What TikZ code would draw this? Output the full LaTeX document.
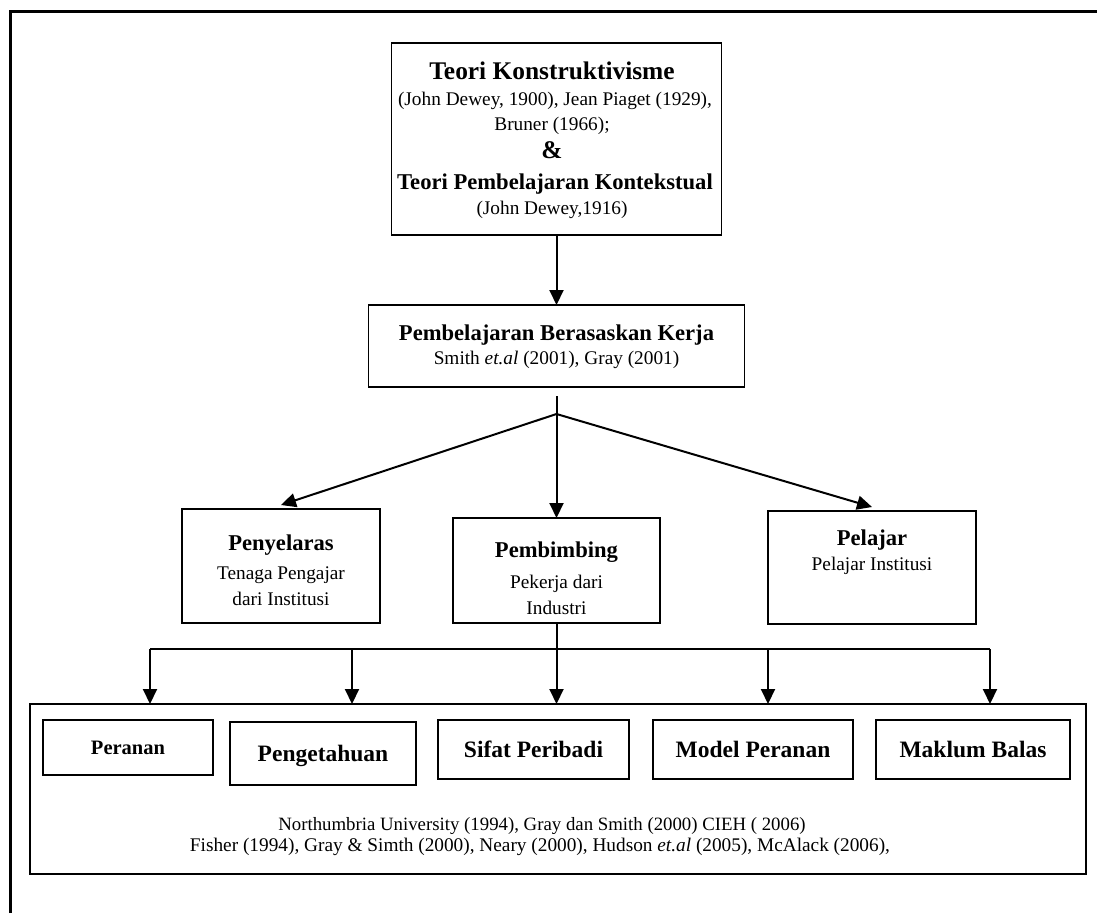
\documentclass[tikz,border=0pt]{standalone}
\usepackage{fontspec}
\setmainfont{Liberation Serif}
\usetikzlibrary{arrows.meta}
\newcommand\fsz[1]{\fontsize{#1}{#1}\selectfont}
\begin{document}
\begin{tikzpicture}[x=1pt,y=-1pt,
  box/.style={draw, line width=1.8pt, inner sep=0pt, outer sep=0pt},
  arr/.style={line width=2pt, -{Triangle[length=15pt,width=14pt]}},
  conn/.style={line width=2pt},
  txt/.style={anchor=base, inner sep=0pt},
  hbig/.style={font=\bfseries\fsz{25.4}},
  hmid/.style={font=\bfseries\fsz{22.6}},
  reg/.style={font=\fsz{19.3}},
  inb/.style={box, font=\bfseries\fsz{23.5}, text height=15.5pt, text depth=0pt},
  inbs/.style={box, font=\bfseries\fsz{20.5}, text height=13.6pt, text depth=0pt}
]
\useasboundingbox (0,0) rectangle (1097,913);
% outer frame (top and left sides)
\draw[line width=3pt] (10.5,913) -- (10.5,11.5) -- (1097,11.5);

% top box
\node[box, minimum width=330pt, minimum height=192pt] (top) at (556.5,139) {};
\node[txt, hbig] (t1) at (552,79) {Teori Konstruktivisme};
\node[txt, reg] (t2) at (555,105) {(John Dewey, 1900), Jean Piaget (1929),};
\node[txt, reg] (t3) at (552,130) {Bruner (1966);};
\node[txt, hbig] (t4) at (552,158) {\&};
\node[txt, hmid] (t5) at (555,189) {Teori Pembelajaran Kontekstual};
\node[txt, reg] (t6) at (552,214) {(John Dewey,1916)};

% second box
\node[box, minimum width=376pt, minimum height=82pt] (pbk) at (556.5,346) {};
\node[txt, hmid] (s1) at (556.5,340) {Pembelajaran Berasaskan Kerja};
\node[txt, reg] (s2) at (556.5,364) {Smith \textit{et.al} (2001), Gray (2001)};

% three boxes
\node[box, minimum width=198pt, minimum height=114pt] (pen) at (281,566) {};
\node[txt, hmid] (p1) at (281,550) {Penyelaras};
\node[txt, reg] (p2) at (281,579) {Tenaga Pengajar};
\node[txt, reg] (p3) at (281,605) {dari Institusi};

\node[box, minimum width=207pt, minimum height=105pt] (pem) at (556.5,570.5) {};
\node[txt, hmid] (m1) at (556.5,557) {Pembimbing};
\node[txt, reg] (m2) at (556.5,588) {Pekerja dari};
\node[txt, reg] (m3) at (556.5,614) {Industri};

\node[box, minimum width=208pt, minimum height=113pt] (pel) at (872,567.5) {};
\node[txt, hmid] (l1) at (872,545) {Pelajar};
\node[txt, reg] (l2) at (872,570) {Pelajar Institusi};

% bottom big box
\node[box, minimum width=1056pt, minimum height=170pt] (bot) at (558,789) {};
\node[inbs, minimum width=170pt, minimum height=55pt] (b_per) at (128,747.5) {Peranan};
\node[inb, minimum width=186pt, minimum height=63pt] (b_pen) at (323,753.5) {Pengetahuan};
\node[inb, minimum width=191pt, minimum height=59pt] (b_sif) at (533.5,749.5) {Sifat Peribadi};
\node[inb, minimum width=200pt, minimum height=59pt] (b_mod) at (753,749.5) {Model Peranan};
\node[inb, minimum width=194pt, minimum height=59pt] (b_mak) at (973,749.5) {Maklum Balas};
\node[txt, font=\fsz{18.8}] (r1) at (542,830) {Northumbria University (1994), Gray dan Smith (2000) CIEH ( 2006)};
\node[txt, reg] (r2) at (540,851) {Fisher (1994), Gray \& Simth (2000), Neary (2000), Hudson \textit{et.al} (2005), McAlack (2006),};

% connectors
\draw[arr] (top.south) -- (pbk.north);
\coordinate (stub) at (556.5,396);
\coordinate (split) at (556.5,414);
\draw[conn] (stub) -- (split);
\draw[arr] (split) -- ([yshift=4pt]pen.north);
\draw[arr] (split) -- (pem.north);
\draw[arr] (split) -- ([yshift=4pt]pel.north);

\coordinate (bar) at (556.5,649);
\coordinate (c1) at (150,649);
\coordinate (c2) at (352,649);
\coordinate (c4) at (768,649);
\coordinate (c5) at (990,649);
\draw[conn] (pem.south) -- (bar);
\draw[conn] (c1) -- (c5);
\foreach \c in {c1,c2,bar,c4,c5} \draw[arr] (\c) -- (\c |- bot.north);
\end{tikzpicture}
\end{document}
